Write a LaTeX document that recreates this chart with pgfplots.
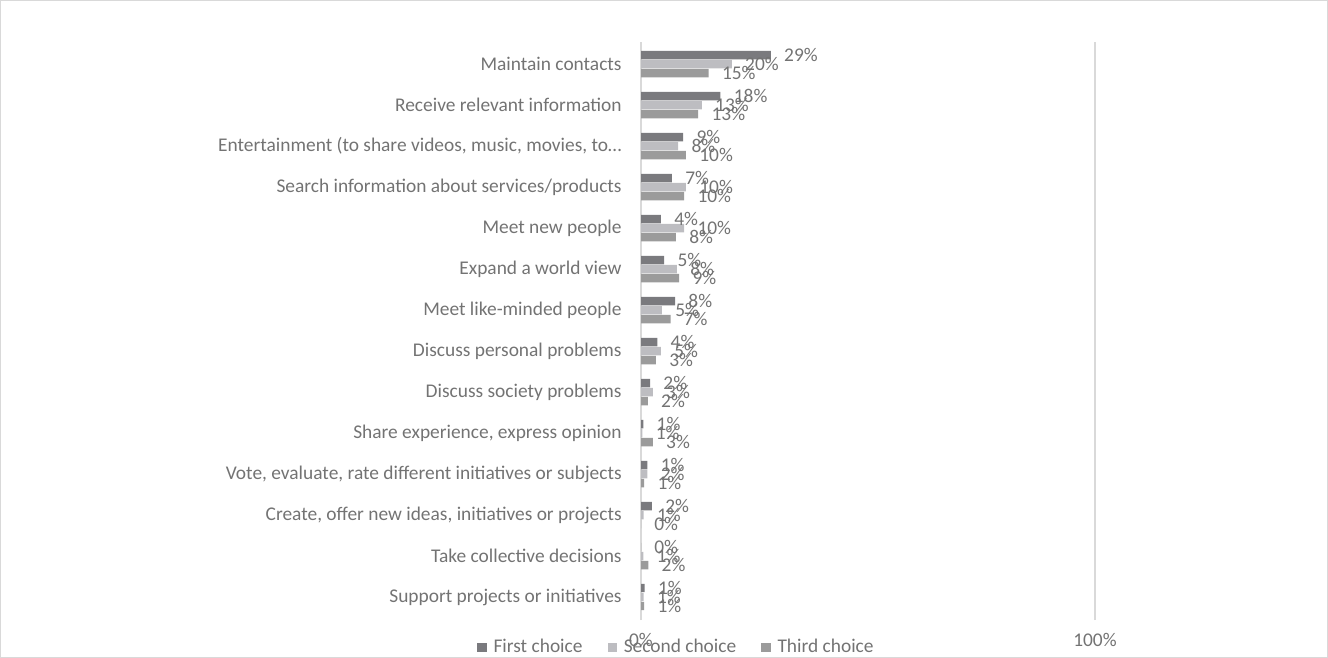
\documentclass[border=0pt]{standalone}
\usepackage{pgfplots}
\pgfplotsset{compat=1.18}
\usepackage{pgfplotstable}
\usepackage{fontspec}
\setmainfont{Carlito}
\definecolor{cFirst}{HTML}{7A7A7E}
\definecolor{cSecond}{HTML}{BDBDC1}
\definecolor{cThird}{HTML}{9B9B9B}
\definecolor{txt}{HTML}{737373}
\definecolor{gridc}{HTML}{D9D9D9}

\pgfplotstableread{
y v lab
14 28.6 29
13 17.5 18
12 9.3 9
11 6.8 7
10 4.4 4
9 5.1 5
8 7.5 8
7 3.6 4
6 2.0 2
5 0.5 1
4 1.4 1
3 2.4 2
2 0.0 0
1 0.8 1
}\first
\pgfplotstableread{
y v lab
14 20.0 20
13 13.4 13
12 8.2 8
11 9.9 10
10 9.5 10
9 7.9 8
8 4.6 5
7 4.4 5
6 2.6 3
5 0.3 1
4 1.4 2
3 0.6 1
2 0.5 1
1 0.6 1
}\second
\pgfplotstableread{
y v lab
14 14.9 15
13 12.6 13
12 9.9 10
11 9.5 10
10 7.7 8
9 8.4 9
8 6.5 7
7 3.3 3
6 1.5 2
5 2.6 3
4 0.7 1
3 0.0 0
2 1.6 2
1 0.7 1
}\third

\begin{document}
\begin{tikzpicture}[font=\fontsize{9.7bp}{11.6bp}\selectfont, text=txt]
\path[use as bounding box] (0,0) rectangle (664bp,329bp);
\draw[gridc, line width=0.6bp] (0.3bp,0.3bp) rectangle (663.7bp,328.7bp);
\begin{axis}[
  at={(320.5bp,19bp)}, anchor=south west,
  scale only axis, width=227bp, height=289bp,
  xmin=0, xmax=100, ymin=0.44, ymax=14.54,
  clip=false,
  xbar, bar width=4.2bp,
  axis line style={draw=none},
  major tick length=0pt,
  xtick={0,100}, xticklabels={0\%,100\%},
  xmajorgrids, grid style={draw=gridc, line width=0.6bp},
  xticklabel style={anchor=center, yshift=-10bp, text=txt},
  ytick={1,...,14},
  yticklabels={Support projects or initiatives, Take collective decisions, {Create, offer new ideas, initiatives or projects}, {Vote, evaluate, rate different initiatives or subjects}, {Share experience, express opinion}, Discuss society problems, Discuss personal problems, Meet like-minded people, Expand a world view, Meet new people, Search information about services/products, {Entertainment (to share videos, music, movies, to…}, Receive relevant information, Maintain contacts},
  yticklabel style={anchor=east, inner sep=0pt, xshift=-9.5bp, text=txt},
  point meta=explicit symbolic,
  nodes near coords={\pgfplotspointmeta\%},
  every node near coord/.append style={anchor=west, inner sep=0pt, xshift=6.5bp, text=txt},
  legend columns=3,
  legend image code/.code={\fill[#1, draw=none] (0bp,-2.3bp) rectangle (4.6bp,2.3bp);},
  legend style={at={(0.076,-0.047)}, anchor=center, draw=none, fill=none, text=txt,
    nodes={inner sep=0pt},
    /tikz/every odd column/.append style={column sep=3.5bp},
    /tikz/every even column/.append style={column sep=12.5bp}},
]
\addplot[fill=cFirst, draw=none, bar shift=4.5bp] table[x=v, y=y, meta=lab] {\first};
\addplot[fill=cSecond, draw=none, bar shift=0bp] table[x=v, y=y, meta=lab] {\second};
\addplot[fill=cThird, draw=none, bar shift=-4.5bp] table[x=v, y=y, meta=lab] {\third};
\legend{First choice, Second choice, Third choice}
\end{axis}
\end{tikzpicture}
\end{document}
